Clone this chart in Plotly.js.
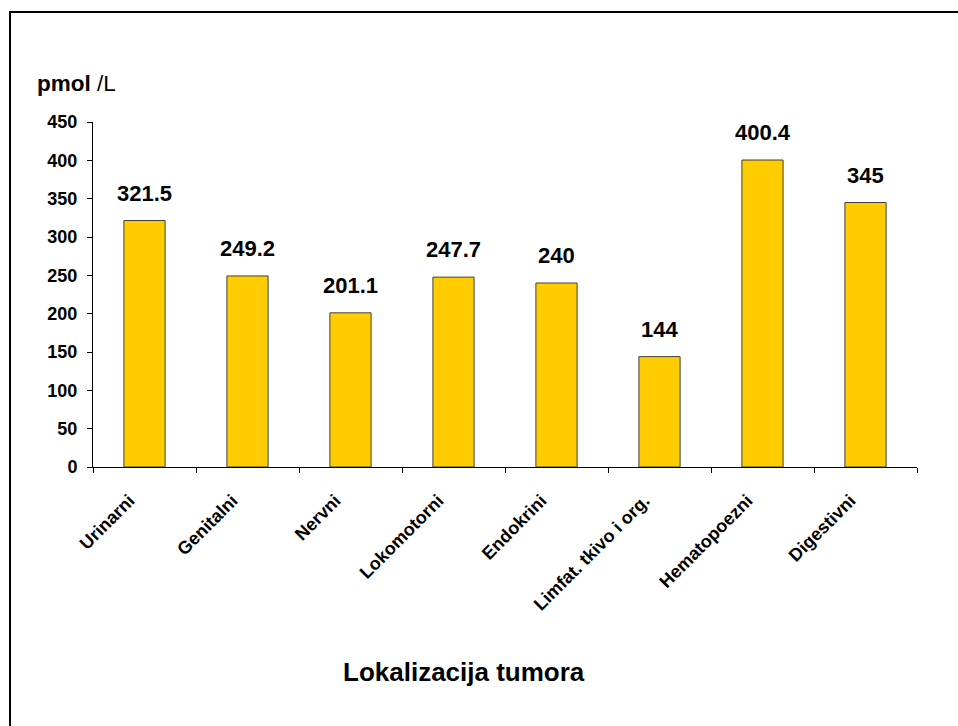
<!DOCTYPE html>
<html>
<head>
<meta charset="utf-8">
<script src="https://cdn.plot.ly/plotly-3.0.1.min.js"></script>
<style>html,body{margin:0;padding:0;background:#fff;}#chart{width:958px;height:726px;}</style>
</head>
<body>
<div id="chart"></div>
<script>
const categories = ["Urinarni", "Genitalni", "Nervni", "Lokomotorni", "Endokrini", "Limfat. tkivo i org.", "Hematopoezni", "Digestivni"];
const values = [321.5, 249.2, 201.1, 247.7, 240, 144, 400.4, 345];
const valueLabels = ["321.5", "249.2", "201.1", "247.7", "240", "144", "400.4", "345"];
const yTicks = [0, 50, 100, 150, 200, 250, 300, 350, 400, 450];

const FONT = "Liberation Sans, Arial, sans-serif";

const trace = {
  type: "bar",
  x: categories,
  y: values,
  marker: {color: "#FFCC00", line: {color: "#404040", width: 1}},
  hoverinfo: "skip"
};

const labelAnnotations = categories.map((c, i) => ({
  x: c, y: values[i], xref: "x", yref: "y",
  text: "<b>" + valueLabels[i] + "</b>",
  showarrow: false, yanchor: "bottom", yshift: 13,
  font: {family: FONT, size: 22, color: "#000"}
}));

const layout = {
  width: 958, height: 726,
  margin: {l: 93, r: 41, t: 122, b: 259, pad: 0},
  paper_bgcolor: "#fff", plot_bgcolor: "#fff",
  showlegend: false,
  bargap: 0.6,
  font: {family: FONT, color: "#000"},
  xaxis: {
    type: "category",
    tickvals: categories,
    ticktext: categories.map(c => "<b>" + c + "</b>"),
    tickangle: -45,
    tickfont: {family: FONT, size: 18, color: "#000"},
    ticklabelstandoff: 15,
    ticklabelshift: -15,
    showline: true, linecolor: "#000", linewidth: 1,
    ticks: "outside", ticklen: 5, tickcolor: "#000",
    tickson: "boundaries",
    showgrid: false, zeroline: false,
    fixedrange: true
  },
  yaxis: {
    range: [0, 450],
    tickvals: yTicks,
    ticktext: yTicks.map(v => "<b>" + v + "</b>"),
    tickfont: {family: FONT, size: 18, color: "#000"},
    ticklabelstandoff: 6,
    showline: true, linecolor: "#000", linewidth: 1,
    ticks: "outside", ticklen: 5, tickcolor: "#000",
    showgrid: false, zeroline: false,
    fixedrange: true
  },
  annotations: labelAnnotations.concat([
    {xref: "paper", yref: "paper", x: -0.07, y: 1.112, xanchor: "left", yanchor: "middle",
     text: "<b>pmol</b> /L", showarrow: false, font: {family: FONT, size: 22.5, color: "#000"}},
    {xref: "paper", yref: "paper", x: 0.4502, y: -0.594, xanchor: "center", yanchor: "middle",
     text: "<b>Lokalizacija tumora</b>", showarrow: false, font: {family: FONT, size: 26, color: "#000"}}
  ]),
  shapes: [
    {type: "rect", xref: "paper", yref: "paper", x0: -0.1007, x1: 1.07, y0: -0.78, y1: 1.3188,
     line: {color: "#000", width: 2}, fillcolor: "rgba(0,0,0,0)", layer: "below"}
  ]
};

Plotly.newPlot("chart", [trace], layout, {displayModeBar: false, staticPlot: true});
</script>
</body>
</html>
